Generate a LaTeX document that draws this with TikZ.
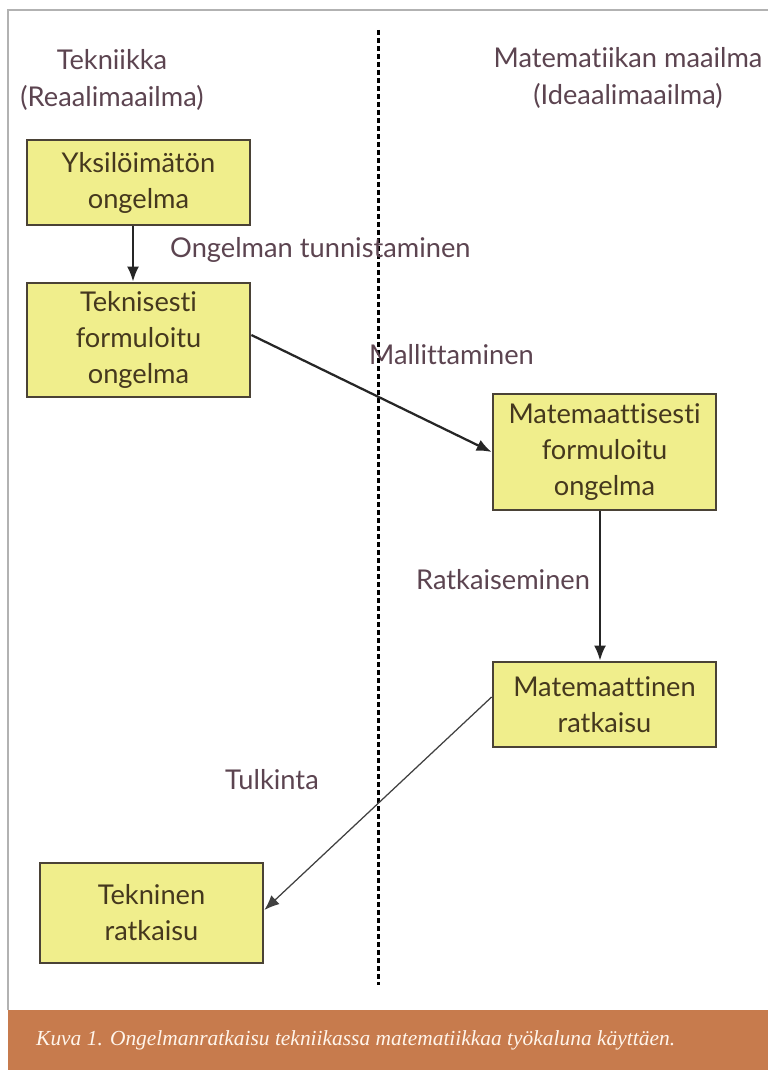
\documentclass[tikz,border=0pt]{standalone}
\usepackage{fontspec}
\setmainfont{Lato}[Ligatures={NoCommon}]
\newfontfamily\capfont{Liberation Serif}
\usetikzlibrary{arrows.meta}
\definecolor{boxfill}{HTML}{F0EE8C}
\definecolor{boxline}{HTML}{4A4236}
\definecolor{boxtext}{HTML}{45381E}
\definecolor{labeltext}{HTML}{5C4450}
\definecolor{bandfill}{HTML}{C77B4D}
\begin{document}
\begin{tikzpicture}[x=0.2mm, y=-0.2mm,
	stepbox/.style={draw=boxline, fill=boxfill, line width=0.55mm, text=boxtext,
		minimum width=44.6mm, minimum height=17mm, align=center, font=\fontsize{15.5}{20.5}\selectfont},
	tag/.style={text=labeltext, font=\fontsize{15.5}{21.5}\selectfont, align=center},
	flow/.style={draw=black!85, line width=0.45mm, -{Latex[length=3mm,width=2.4mm]}},
	thinflow/.style={draw=black!75, line width=0.25mm, -{Latex[length=3mm,width=2.4mm]}}]
	\useasboundingbox (0,0) rectangle (768,1070);
	% frame and caption band
	\draw[gray!60, line width=0.3mm] (8,1010) -- (8,10) -- (768,10);
	\fill[bandfill] (8,1010) rectangle (768,1070);
	\node[anchor=west, text=white!92!orange, font=\capfont\itshape\fontsize{12.2}{15}\selectfont] (caption) at (30,1040)
		{Kuva 1. Ongelmanratkaisu tekniikassa matematiikkaa työkaluna käyttäen.};
	% divider
	\draw[black, line width=0.6mm, dash pattern=on 1mm off 0.6mm] (378,30) -- (378,985);
	% headings
	\node[tag] (real) at (112,80) {Tekniikka\\(Reaalimaailma)};
	\node[tag] (ideal) at (628,78) {Matematiikan maailma\\(Ideaalimaailma)};
	% boxes
	\node[stepbox, minimum height=17mm] (raw) at (138.5,182.5) {Yksilöimätön\\ongelma};
	\node[stepbox, minimum height=22.8mm] (tech) at (138.5,340) {Teknisesti\\formuloitu\\ongelma};
	\node[stepbox, minimum height=23.2mm] (math) at (604.5,452) {Matemaattisesti\\formuloitu\\ongelma};
	\node[stepbox, minimum height=17mm] (msol) at (604.5,704.5) {Matemaattinen\\ratkaisu};
	\node[stepbox, minimum height=20mm] (tsol) at (151.5,913) {Tekninen\\ratkaisu};
	% connectors
	\draw[flow] (raw.south -| 133,0) -- (tech.north -| 133,0);
	\draw[flow] (tech.east |- 0,335) -- (math.west |- 0,452);
	\draw[flow] (math.south -| 600,0) -- (msol.north -| 600,0);
	\draw[thinflow] (msol.west |- 0,697) -- (tsol.east |- 0,910);
	% step labels
	\node[tag, anchor=west] (ident) at (164,250) {Ongelman tunnistaminen};
	\node[tag, anchor=west] (model) at (363,355) {Mallittaminen};
	\node[tag, anchor=west] (solve) at (410,580) {Ratkaiseminen};
	\node[tag, anchor=west] (interp) at (219,780) {Tulkinta};
\end{tikzpicture}
\end{document}
